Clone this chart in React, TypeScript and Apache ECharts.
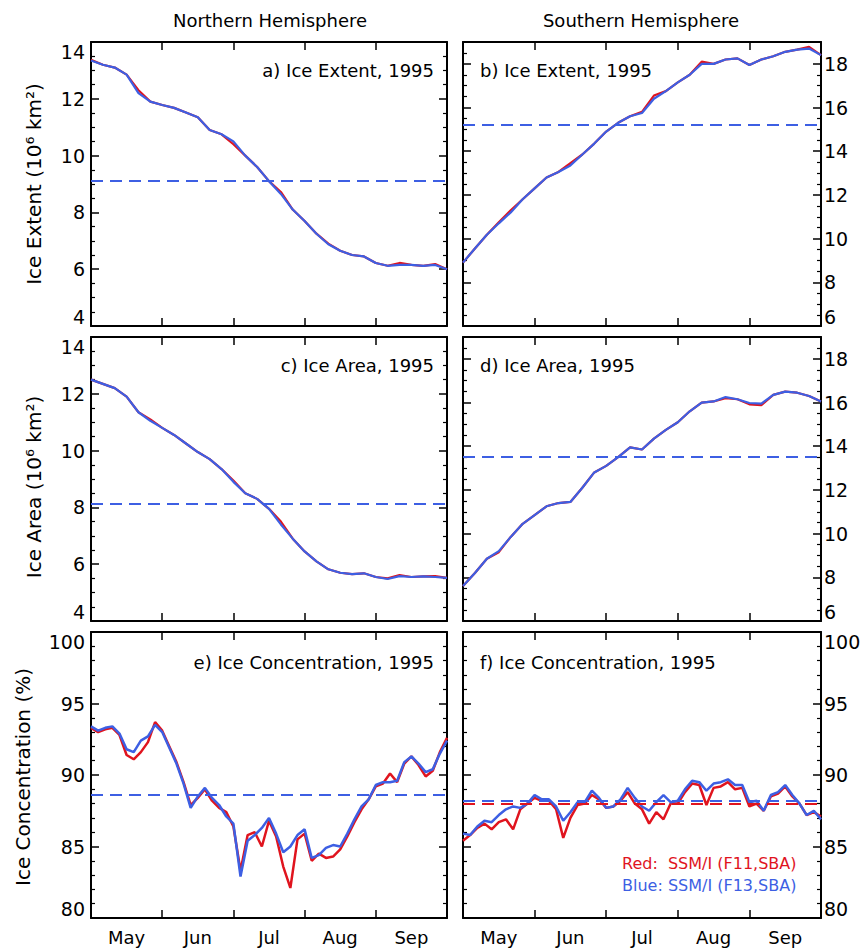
import React, { useEffect, useRef } from 'react';
import * as echarts from 'echarts';

const FONT = '"DejaVu Sans", "Liberation Sans", sans-serif';
const RED = '#e0141e';
const BLUE = '#3d5fe3';

// ---------- data ----------
const months = ['May', 'Jun', 'Jul', 'Aug', 'Sep'];
const columnTitles = ['Northern Hemisphere', 'Southern Hemisphere'];
const rowTitles = ['Ice Extent (10\u2076 km\u00B2)', 'Ice Area (10\u2076 km\u00B2)', 'Ice Concentration (%)'];
const legendRed = 'Red:  SSM/I (F11,SBA)';
const legendBlue = 'Blue: SSM/I (F13,SBA)';

// day offsets from 1 May
const days5 = [0, 5, 10, 15, 20, 25, 30, 35, 40, 45, 50, 55, 60, 65, 70, 75, 80, 85, 90, 95, 100, 105, 110, 115, 120, 125, 130, 135, 140, 145, 150];
const days3 = [0, 3, 6, 9, 12, 15, 18, 21, 24, 27, 30, 33, 36, 39, 42, 45, 48, 51, 54, 57, 60, 63, 66, 69, 72, 75, 78, 81, 84, 87, 90, 93, 96, 99, 102, 105, 108, 111, 114, 117, 120, 123, 126, 129, 132, 135, 138, 141, 144, 147, 150];

// a) NH ice extent (10^6 km^2)
const nhExtentBlue = [13.35, 13.2, 13.1, 12.85, 12.2, 11.9, 11.78, 11.68, 11.52, 11.35, 10.9, 10.75, 10.5, 10.0, 9.6, 9.1, 8.65, 8.1, 7.7, 7.25, 6.88, 6.65, 6.5, 6.45, 6.22, 6.12, 6.15, 6.15, 6.12, 6.15, 6.0];
const nhExtentRed = [13.37, 13.2, 13.1, 12.85, 12.3, 11.9, 11.78, 11.68, 11.52, 11.35, 10.9, 10.75, 10.4, 10.0, 9.6, 9.1, 8.72, 8.1, 7.7, 7.25, 6.9, 6.65, 6.5, 6.45, 6.22, 6.12, 6.22, 6.15, 6.12, 6.18, 6.0];
const nhExtentMeanRed = 9.12;
const nhExtentMeanBlue = 9.12;

// b) SH ice extent
const shExtentBlue = [8.9, 9.55, 10.18, 10.7, 11.2, 11.8, 12.3, 12.8, 13.05, 13.35, 13.85, 14.35, 14.9, 15.3, 15.6, 15.75, 16.4, 16.75, 17.15, 17.5, 18.0, 18.0, 18.2, 18.25, 17.95, 18.2, 18.35, 18.55, 18.65, 18.7, 18.4];
const shExtentRed = [8.9, 9.55, 10.18, 10.75, 11.3, 11.8, 12.3, 12.8, 13.05, 13.45, 13.85, 14.35, 14.9, 15.3, 15.6, 15.8, 16.55, 16.75, 17.15, 17.5, 18.1, 18.0, 18.2, 18.25, 17.95, 18.2, 18.35, 18.55, 18.65, 18.78, 18.4];
const shExtentMeanRed = 15.23;
const shExtentMeanBlue = 15.23;

// c) NH ice area
const nhAreaBlue = [12.5, 12.35, 12.2, 11.9, 11.35, 11.05, 10.8, 10.55, 10.25, 9.95, 9.7, 9.35, 8.9, 8.5, 8.3, 7.95, 7.4, 6.9, 6.45, 6.1, 5.82, 5.7, 5.65, 5.68, 5.55, 5.48, 5.58, 5.55, 5.57, 5.55, 5.52];
const nhAreaRed = [12.5, 12.35, 12.2, 11.9, 11.35, 11.1, 10.8, 10.55, 10.25, 9.95, 9.7, 9.35, 8.95, 8.5, 8.3, 7.95, 7.5, 6.9, 6.45, 6.1, 5.82, 5.7, 5.65, 5.68, 5.55, 5.5, 5.62, 5.55, 5.57, 5.58, 5.52];
const nhAreaMeanRed = 8.14;
const nhAreaMeanBlue = 8.14;

// d) SH ice area
const shAreaBlue = [7.6, 8.2, 8.85, 9.2, 9.85, 10.45, 10.85, 11.25, 11.4, 11.45, 12.1, 12.8, 13.1, 13.5, 13.95, 13.85, 14.35, 14.75, 15.1, 15.6, 16.0, 16.05, 16.25, 16.15, 15.98, 15.95, 16.35, 16.5, 16.45, 16.3, 16.05];
const shAreaRed = [7.6, 8.2, 8.85, 9.15, 9.85, 10.45, 10.85, 11.25, 11.4, 11.45, 12.1, 12.8, 13.1, 13.5, 13.95, 13.85, 14.35, 14.75, 15.1, 15.6, 16.0, 16.05, 16.2, 16.15, 15.92, 15.88, 16.35, 16.5, 16.45, 16.3, 16.05];
const shAreaMeanRed = 13.54;
const shAreaMeanBlue = 13.54;

// e) NH ice concentration (%)
const nhConcBlue = [93.4, 93.1, 93.3, 93.4, 92.9, 91.8, 91.6, 92.4, 92.7, 93.5, 93.0, 91.9, 90.8, 89.4, 87.7, 88.5, 89.1, 88.4, 87.9, 87.1, 86.6, 82.9, 85.4, 85.8, 86.3, 87.0, 85.9, 84.6, 85.0, 85.8, 86.2, 84.2, 84.4, 84.9, 85.1, 85.0, 85.9, 86.9, 87.8, 88.3, 89.3, 89.5, 89.5, 89.6, 90.9, 91.3, 90.8, 90.2, 90.4, 91.5, 92.4];
const nhConcRed = [93.3, 93.0, 93.2, 93.3, 92.8, 91.4, 91.1, 91.6, 92.3, 93.7, 93.1, 92.0, 90.9, 89.5, 87.9, 88.4, 89.0, 88.2, 87.7, 87.4, 86.4, 83.3, 85.8, 86.0, 85.0, 86.8, 85.7, 83.6, 82.1, 85.5, 85.9, 84.0, 84.5, 84.2, 84.3, 84.8, 85.7, 86.7, 87.6, 88.3, 89.2, 89.4, 90.1, 89.5, 90.8, 91.3, 90.7, 89.9, 90.3, 91.6, 92.6];
const nhConcMeanRed = 88.6;
const nhConcMeanBlue = 88.6;

// f) SH ice concentration (%)
const shConcBlue = [85.9, 85.8, 86.4, 86.8, 86.7, 87.2, 87.6, 87.8, 87.7, 88.0, 88.6, 88.3, 88.3, 87.8, 86.8, 87.4, 88.1, 88.1, 88.9, 88.4, 87.7, 87.8, 88.3, 89.1, 88.4, 87.8, 87.5, 88.1, 88.6, 88.1, 88.2, 89.0, 89.6, 89.5, 88.9, 89.4, 89.5, 89.7, 89.3, 89.3, 88.1, 88.2, 87.5, 88.6, 88.8, 89.3, 88.6, 88.0, 87.2, 87.5, 86.9];
const shConcRed = [85.4, 85.8, 86.3, 86.6, 86.2, 86.7, 86.9, 86.2, 87.6, 88.0, 88.4, 88.2, 88.2, 87.6, 85.6, 87.0, 87.9, 88.0, 88.6, 88.3, 87.7, 87.8, 88.2, 88.8, 88.0, 87.6, 86.6, 87.4, 86.9, 88.0, 88.0, 88.8, 89.4, 89.3, 87.9, 89.1, 89.2, 89.5, 89.0, 89.1, 87.8, 88.0, 87.5, 88.5, 88.7, 89.2, 88.5, 88.0, 87.2, 87.4, 87.1];
const shConcMeanRed = 88.0;
const shConcMeanBlue = 88.17;

// y-axis ranges
const extentAxisNH = { min: 4, max: 14, interval: 2, minorSplit: 4 };
const extentAxisSH = { min: 6, max: 19, interval: 2, minorSplit: 4 };
const concAxis = { min: 80, max: 100, interval: 5, minorSplit: 5 };

const panels = [
  { tag: 'a) Ice Extent, 1995', col: 0, row: 0, axis: extentAxisNH, days: days5, red: nhExtentRed, blue: nhExtentBlue, redMean: nhExtentMeanRed, blueMean: nhExtentMeanBlue },
  { tag: 'b) Ice Extent, 1995', col: 1, row: 0, axis: extentAxisSH, days: days5, red: shExtentRed, blue: shExtentBlue, redMean: shExtentMeanRed, blueMean: shExtentMeanBlue },
  { tag: 'c) Ice Area, 1995', col: 0, row: 1, axis: extentAxisNH, days: days5, red: nhAreaRed, blue: nhAreaBlue, redMean: nhAreaMeanRed, blueMean: nhAreaMeanBlue },
  { tag: 'd) Ice Area, 1995', col: 1, row: 1, axis: extentAxisSH, days: days5, red: shAreaRed, blue: shAreaBlue, redMean: shAreaMeanRed, blueMean: shAreaMeanBlue },
  { tag: 'e) Ice Concentration, 1995', col: 0, row: 2, axis: concAxis, days: days3, red: nhConcRed, blue: nhConcBlue, redMean: nhConcMeanRed, blueMean: nhConcMeanBlue },
  { tag: 'f) Ice Concentration, 1995', col: 1, row: 2, axis: concAxis, days: days3, red: shConcRed, blue: shConcBlue, redMean: shConcMeanRed, blueMean: shConcMeanBlue },
];

// ---------- layout ----------
const COLS = [
  { left: 91, width: 356 },
  { left: 463, width: 358 },
];
const ROWS = [
  { top: 42, height: 284 },
  { top: 337, height: 284 },
  { top: 632, height: 286 },
];

function buildOption() {
  const grid: any[] = [];
  const xAxis: any[] = [];
  const yAxis: any[] = [];
  const series: any[] = [];
  const graphic: any[] = [];

  const frameLine = { show: true, onZero: false, lineStyle: { color: '#000', width: 2 } };
  const tick = { show: true, inside: true, length: 8, lineStyle: { color: '#000', width: 1.5 } };

  panels.forEach((p, k) => {
    const c = COLS[p.col];
    const r = ROWS[p.row];
    grid.push({ left: c.left, top: r.top, width: c.width, height: r.height, containLabel: false });

    const xBottom = xAxis.length;
    ['bottom', 'top'].forEach((pos) => {
      xAxis.push({
        gridIndex: k, type: 'value', position: pos, min: 0, max: 150, interval: 30,
        axisLine: frameLine, axisTick: tick, axisLabel: { show: false },
        splitLine: { show: false }, minorTick: { show: false },
      });
    });
    if (p.row === 2) {
      xAxis.push({
        gridIndex: k, type: 'category', position: 'bottom', data: months, boundaryGap: true,
        axisLine: { show: false }, axisTick: { show: false }, splitLine: { show: false },
        axisLabel: { show: true, color: '#000', fontSize: 18, fontFamily: FONT, margin: 10 },
      });
    }

    const yLeft = yAxis.length;
    const a = p.axis;
    const fmt = (v: number) => (Math.abs(v / a.interval - Math.round(v / a.interval)) < 1e-6 ? String(v) : '');
    ['left', 'right'].forEach((pos, side) => {
      const showLabel = side === p.col;
      yAxis.push({
        gridIndex: k, type: 'value', position: pos, min: a.min, max: a.max, interval: a.interval,
        axisLine: frameLine, axisTick: tick,
        minorTick: { show: true, splitNumber: a.minorSplit, length: 4, lineStyle: { color: '#000', width: 1.2 } },
        splitLine: { show: false }, minorSplitLine: { show: false },
        axisLabel: {
          show: showLabel, color: '#000', fontSize: 19, fontFamily: FONT,
          margin: side === 0 ? 6 : 3, formatter: fmt,
          verticalAlignMinLabel: 'bottom', verticalAlignMaxLabel: 'top',
        },
      });
    });

    const mk = (mean: number, color: string) => ({
      silent: true, symbol: ['none', 'none'], label: { show: false },
      lineStyle: { color, type: [12, 7], width: 2.2 },
      emphasis: { disabled: true },
      data: [{ yAxis: mean }],
    });

    const lw = p.row === 2 ? 2.5 : 2.2;
    series.push({
      type: 'line', name: 'Red', xAxisIndex: xBottom, yAxisIndex: yLeft,
      data: p.days.map((d, i) => [d, p.red[i]]),
      showSymbol: false, symbol: 'none', z: 2,
      lineStyle: { color: RED, width: lw }, itemStyle: { color: RED },
      markLine: mk(p.redMean, RED),
    });
    series.push({
      type: 'line', name: 'Blue', xAxisIndex: xBottom, yAxisIndex: yLeft,
      data: p.days.map((d, i) => [d, p.blue[i]]),
      showSymbol: false, symbol: 'none', z: 3,
      lineStyle: { color: BLUE, width: lw }, itemStyle: { color: BLUE },
      markLine: mk(p.blueMean, BLUE),
    });

    // panel tag
    const tagY = r.top + (p.row === 2 ? 30 : 28);
    graphic.push({
      type: 'text',
      x: p.col === 0 ? c.left + c.width - 13 : c.left + 17,
      y: tagY,
      style: {
        text: p.tag, fill: '#000', fontSize: 18, fontFamily: FONT,
        align: p.col === 0 ? 'right' : 'left', textAlign: p.col === 0 ? 'right' : 'left',
        verticalAlign: 'middle', textVerticalAlign: 'middle',
      },
    });
  });

  // column titles
  columnTitles.forEach((t, i) => {
    graphic.push({
      type: 'text', x: i === 0 ? 270 : 641, y: 20,
      style: { text: t, fill: '#000', fontSize: 18, fontFamily: FONT, align: 'center', textAlign: 'center', verticalAlign: 'middle', textVerticalAlign: 'middle' },
    });
  });

  // row (y-axis) titles
  const rowTitleX = [34, 34, 23];
  const rowTitleY = [184, 487, 777];
  rowTitles.forEach((t, i) => {
    graphic.push({
      type: 'text', x: rowTitleX[i], y: rowTitleY[i], rotation: Math.PI / 2,
      style: { text: t, fill: '#000', fontSize: 20, fontFamily: FONT, align: 'center', textAlign: 'center', verticalAlign: 'middle', textVerticalAlign: 'middle' },
    });
  });

  // legend
  graphic.push({
    type: 'text', x: 622, y: 863,
    style: { text: legendRed, fill: RED, fontSize: 16, fontFamily: FONT, align: 'left', textAlign: 'left', verticalAlign: 'middle', textVerticalAlign: 'middle' },
  });
  graphic.push({
    type: 'text', x: 622, y: 885,
    style: { text: legendBlue, fill: BLUE, fontSize: 16, fontFamily: FONT, align: 'left', textAlign: 'left', verticalAlign: 'middle', textVerticalAlign: 'middle' },
  });

  return {
    animation: false,
    backgroundColor: '#fff',
    textStyle: { fontFamily: FONT },
    grid, xAxis, yAxis, series, graphic,
  };
}

export default function App() {
  const ref = useRef<HTMLDivElement>(null);
  useEffect(() => {
    if (!ref.current) return;
    const chart = echarts.init(ref.current, undefined, { renderer: 'svg' });
    chart.setOption(buildOption() as any);
    return () => chart.dispose();
  }, []);
  return (
    <div
      ref={ref}
      style={{ position: 'absolute', left: 0, top: 0, width: 868, height: 949, background: '#fff' }}
    />
  );
}
